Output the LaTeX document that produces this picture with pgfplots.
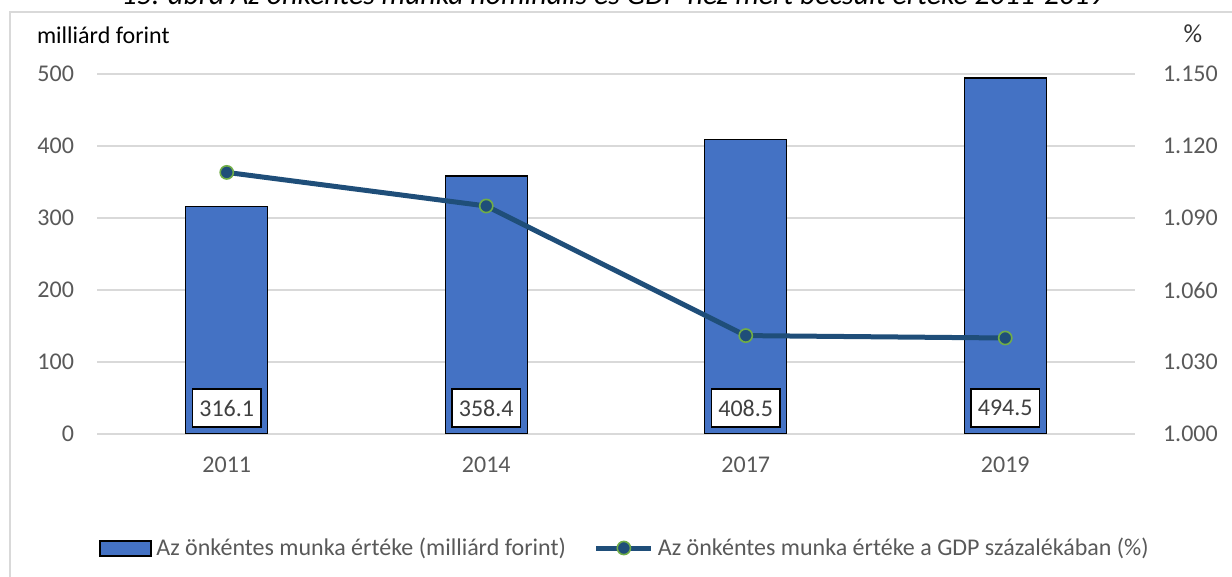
\documentclass[border=0pt]{standalone}
\usepackage{fontspec}
\setmainfont{Carlito}
\usepackage{pgfplots}
\pgfplotsset{compat=1.18}
\definecolor{barblue}{HTML}{4472C4}
\definecolor{lineblue}{HTML}{1F4E79}
\definecolor{markgreen}{HTML}{70AD47}
\definecolor{gridgray}{HTML}{D9D9D9}
\definecolor{ticktext}{HTML}{595959}
\pgfplotsset{
  linelegend/.style={legend image code/.code={\draw[##1, mark indices={2}]
    plot coordinates {(0pt,0pt) (13.75pt,0pt) (27.5pt,0pt)};}},
  barlegend/.style={legend image code/.code={\draw[fill=barblue, draw=black, line width=1pt]
    (0pt,-3.75pt) rectangle (25.5pt,3.75pt);}},
}

\begin{document}
\begin{tikzpicture}[font=\fontsize{12}{14.4}\selectfont]
% outer frame (left and top edges are visible)
\draw[gridgray, line width=0.75pt] (5pt,0pt) -- (5pt,282.5pt) -- (620pt,282.5pt);
\node[anchor=base, font=\fontsize{14.9}{17}\selectfont\itshape] at (306.5pt,286.25pt)
  {15. ábra Az önkéntes munka nominális és GDP-hez mért becsült értéke 2011-2019};

\begin{axis}[
    at={(48.5pt,71.5pt)}, anchor=south west,
    scale only axis, width=519pt, height=180pt,
    xmin=-0.5, xmax=3.5, ymin=0, ymax=500,
    xtick={0,1,2,3}, xticklabels={2011,2014,2017,2019},
    ytick={0,100,...,500},
    axis y line*=left, axis x line*=bottom,
    axis line style={draw=none},
    tick style={draw=none},
    ymajorgrids, grid style={gridgray, line width=0.75pt},
    tick label style={ticktext},
    /pgf/number format/assume math mode=true,
    yticklabel style={xshift=-8pt},
    xticklabel style={yshift=-8pt},
]
\addplot[ybar, bar width=41pt, fill=barblue, draw=black, line width=0.6pt]
  coordinates {(0,316.1) (1,358.4) (2,408.5) (3,494.5)};
% value labels in white boxes near the bar bases
\addplot[draw=none, mark=none, nodes near coords, point meta=explicit symbolic,
  every node near coord/.style={anchor=center, fill=white, draw=black, line width=0.8pt,
    inner xsep=3.5pt, minimum height=19pt, text=black!75}]
  coordinates {(0,36)[316.1] (1,36)[358.4] (2,36)[408.5] (3,36)[494.5]};
\end{axis}

\begin{axis}[
    at={(48.5pt,71.5pt)}, anchor=south west,
    scale only axis, width=519pt, height=180pt,
    xmin=-0.5, xmax=3.5, ymin=1, ymax=1.15,
    axis x line=none,
    axis y line*=right,
    axis line style={draw=none},
    tick style={draw=none},
    ytick={1,1.03,1.06,1.09,1.12,1.15},
    yticklabel style={ticktext, xshift=10.5pt,
      /pgf/number format/.cd, fixed, fixed zerofill, precision=3, assume math mode=true},
    legend columns=2,
    legend cell align=left,
    legend style={at={(0.5096,-0.3167)}, anchor=center, draw=none, fill=none,
      text=ticktext, /tikz/every even column/.append style={column sep=12pt}},
]
\addlegendimage{barlegend}
\addlegendentry{Az önkéntes munka értéke (milliárd forint)}
\addplot[color=lineblue, line width=2.5pt, mark=*, mark size=3.3pt,
  mark options={fill=lineblue, draw=markgreen, line width=0.8pt}, linelegend]
  coordinates {(0,1.109) (1,1.095) (2,1.041) (3,1.040)};
\addlegendentry{Az önkéntes munka értéke a GDP százalékában (\%)}
\end{axis}

\node[anchor=west] at (15pt,271pt) {milliárd forint};
\node[anchor=base, font=\fontsize{13}{15}\selectfont, text=black!80] at (596.5pt,267pt) {\%};

\pgfresetboundingbox
\path[use as bounding box] (0pt,0pt) rectangle (616pt,288.5pt);
\end{tikzpicture}
\end{document}
